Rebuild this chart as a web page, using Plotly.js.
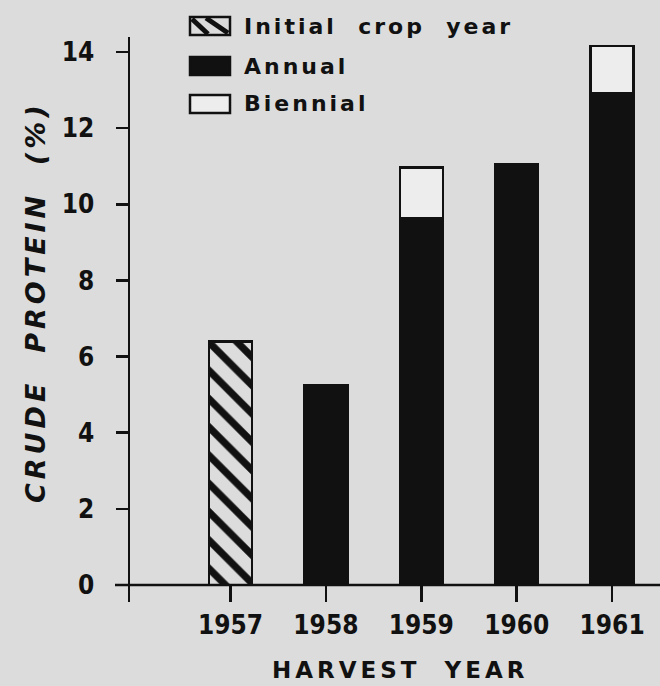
<!DOCTYPE html>
<html>
<head>
<meta charset="utf-8">
<script src="https://cdn.plot.ly/plotly-3.0.1.min.js"></script>
<style>
  html, body { margin: 0; padding: 0; background: #dcdcdc; }
  #chart { width: 660px; height: 686px; }
</style>
</head>
<body>
<div id="chart"></div>
<script>
// ---- data ----
const years = [1957, 1958, 1959, 1960, 1961];
const initialYears = [1957];
const initialValues = [6.4];
const annualYears = [1958, 1959, 1960, 1961];
const annualValues = [5.25, 9.63, 11.05, 12.92];
const biennialYears = [1959, 1961];
const biennialAdded = [1.34, 1.24];   // white cap on top of the annual bar
const yTickValues = [0, 2, 4, 6, 8, 10, 12, 14];
const legendLabels = ['Initial&nbsp; crop&nbsp; year', 'Annual', 'Biennial'];
const xTitle = 'HARVEST&nbsp; YEAR';
const yTitle = 'CRUDE&nbsp; PROTEIN&nbsp; (%)';

// ---- layout geometry ----
const W = 660, H = 686;
const M = { l: 130, r: 0, t: 37, b: 84 };
const plotW = W - M.l - M.r, plotH = H - M.t - M.b;
const px = x => (x - M.l) / plotW;
const py = y => (H - M.b - y) / plotH;
const ink = '#111111';
const bg = '#dcdcdc';
const light = '#ededed';
const font = 'DejaVu Sans, sans-serif';
const tickFont = 'DejaVu Sans Condensed, DejaVu Sans, sans-serif';
const bold = s => '<b>' + s + '</b>';

const traces = [
  {
    type: 'bar', name: 'Initial crop year', x: initialYears, y: initialValues,
    marker: { color: bg, line: { color: ink, width: 2.5 },
      pattern: { shape: '\\', fgcolor: ink, bgcolor: bg, fgopacity: 1, size: 20, solidity: 0.36, fillmode: 'replace' } },
    showlegend: false
  },
  {
    type: 'bar', name: 'Annual', x: annualYears, y: annualValues,
    marker: { color: ink, line: { color: ink, width: 2.5 } },
    showlegend: false
  },
  {
    type: 'bar', name: 'Biennial', x: biennialYears, y: biennialAdded,
    marker: { color: light, line: { color: ink, width: 2.5 } },
    showlegend: false
  }
];

// manual legend (large boxes like the original lettering)
const rows = [26, 66, 104];
const boxL = 190, boxR = 230, boxH = 18;
const shapes = [];
const annotations = [];
rows.forEach((cy, i) => {
  const y0 = cy - boxH / 2, y1 = cy + boxH / 2;
  shapes.push({
    type: 'rect', xref: 'paper', yref: 'paper',
    x0: px(boxL), x1: px(boxR), y0: py(y1), y1: py(y0),
    line: { color: ink, width: 2.5 },
    fillcolor: i === 1 ? ink : (i === 2 ? light : bg)
  });
  annotations.push({
    xref: 'paper', yref: 'paper', x: px(boxL + 52), y: py(cy),
    xanchor: 'left', yanchor: 'middle', showarrow: false,
    text: '<span style="letter-spacing:3px">' + bold(legendLabels[i]) + '</span>',
    font: { family: font, size: 22, color: ink }
  });
});
// hatch strokes in the first legend box
shapes.push({ type: 'line', xref: 'paper', yref: 'paper',
  x0: px(boxL + 2), y0: py(rows[0] - 7), x1: px(boxL + 18), y1: py(rows[0] + 8),
  line: { color: ink, width: 5 } });
shapes.push({ type: 'line', xref: 'paper', yref: 'paper',
  x0: px(boxL + 16), y0: py(rows[0] - 8), x1: px(boxR - 2), y1: py(rows[0] + 7),
  line: { color: ink, width: 5 } });
// x axis line at zero, slightly overshooting the y axis to the left
shapes.push({ type: 'line', xref: 'paper', yref: 'y',
  x0: px(115), x1: 1, y0: 0, y1: 0, line: { color: ink, width: 2.5 }, layer: 'above' });

// axis titles placed as annotations to match the original positions
annotations.push({
  xref: 'paper', yref: 'paper', x: px(400), y: py(670),
  xanchor: 'center', yanchor: 'middle', showarrow: false,
  text: '<span style="letter-spacing:4px">' + bold(xTitle) + '</span>',
  font: { family: font, size: 23, color: ink }
});
annotations.push({
  xref: 'paper', yref: 'paper', x: px(35), y: py(302),
  xanchor: 'center', yanchor: 'middle', showarrow: false, textangle: -90,
  text: '<span style="letter-spacing:4px"><i>' + bold(yTitle) + '</i></span>',
  font: { family: font, size: 27, color: ink }
});

const layout = {
  width: W, height: H,
  margin: M,
  paper_bgcolor: bg, plot_bgcolor: bg,
  barmode: 'stack', bargap: 0.55,
  showlegend: false,
  font: { family: font, color: ink, size: 24 },
  xaxis: {
    type: 'linear',
    range: [1955.947, 1961.502],
    tickvals: years, ticktext: years.map(y => bold(String(y))),
    ticks: 'inside', ticklen: 17, tickwidth: 2.5, tickcolor: ink,
    ticklabelstandoff: 5,
    showline: false, showgrid: false, zeroline: false,
    tickfont: { family: tickFont, size: 26, color: ink }
  },
  yaxis: {
    range: [-0.447, 14.394],
    tickvals: yTickValues, ticktext: yTickValues.map(v => bold(String(v))),
    ticks: 'outside', ticklen: 12, tickwidth: 2.5, tickcolor: ink,
    ticklabelstandoff: 16,
    showline: true, linewidth: 2.5, linecolor: ink,
    showgrid: false, zeroline: false,
    tickfont: { family: tickFont, size: 26, color: ink }
  },
  shapes: shapes,
  annotations: annotations
};

Plotly.newPlot('chart', traces, layout, { displayModeBar: false, staticPlot: true });
</script>
</body>
</html>
